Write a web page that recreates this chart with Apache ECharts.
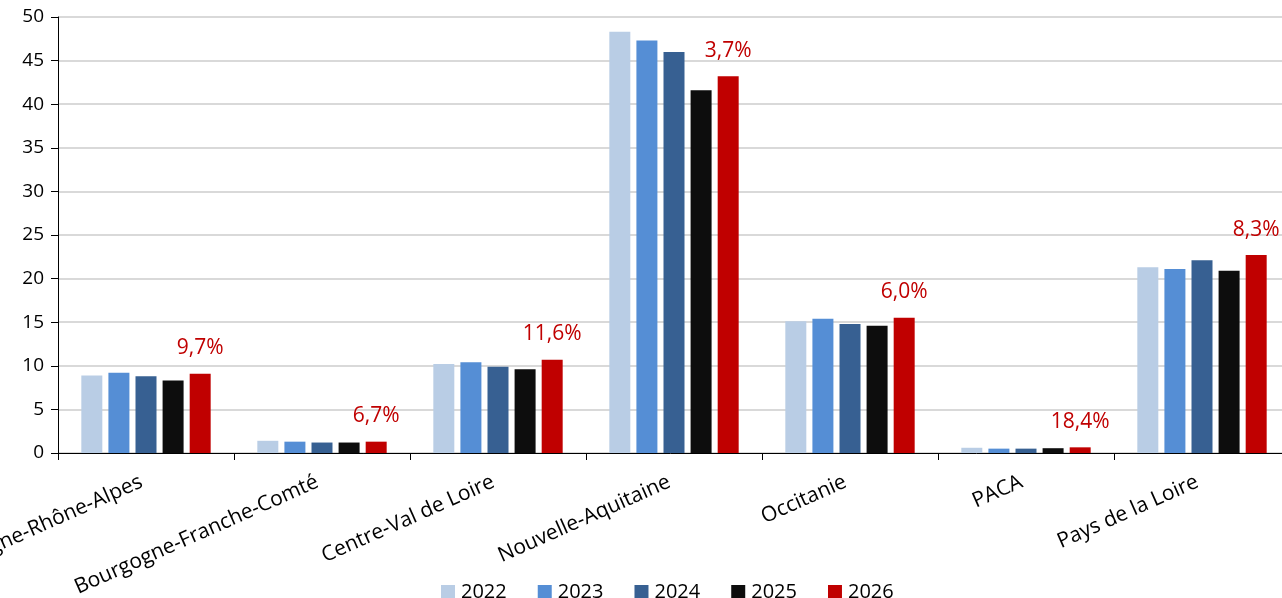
<!DOCTYPE html>
<html>
<head>
<meta charset="utf-8">
<script src="https://cdn.jsdelivr.net/npm/echarts@6/dist/echarts.min.js"></script>
<style>
  html, body { margin: 0; padding: 0; background: #fff; }
  #chart { width: 1282px; height: 598px; }
</style>
</head>
<body>
<div id="chart"></div>
<script>
const categories = ['Auvergne-Rhône-Alpes', 'Bourgogne-Franche-Comté', 'Centre-Val de Loire', 'Nouvelle-Aquitaine', 'Occitanie', 'PACA', 'Pays de la Loire'];
const years = ['2022', '2023', '2024', '2025', '2026'];
const v2022 = [8.9, 1.4, 10.2, 48.3, 15.1, 0.6, 21.3];
const v2023 = [9.2, 1.3, 10.4, 47.3, 15.4, 0.5, 21.1];
const v2024 = [8.8, 1.2, 9.9, 46.0, 14.8, 0.5, 22.1];
const v2025 = [8.3, 1.2, 9.6, 41.6, 14.6, 0.55, 20.9];
const v2026 = [9.1, 1.3, 10.7, 43.2, 15.5, 0.65, 22.7];
const pctLabels = ['9,7%', '6,7%', '11,6%', '3,7%', '6,0%', '18,4%', '8,3%'];
const yTicks = [0, 5, 10, 15, 20, 25, 30, 35, 40, 45, 50];

const colors = ['#B9CDE5', '#558ED5', '#376092', '#0D0D0D', '#C00000'];
const seriesValues = [v2022, v2023, v2024, v2025, v2026];
const FONT = 'Open Sans';

const series = years.map((y, i) => {
  const s = {
    name: y,
    type: 'bar',
    data: seriesValues[i],
    barWidth: 21,
    barGap: '29%',
    itemStyle: { color: colors[i] },
    animation: false
  };
  if (i === years.length - 1) {
    s.label = {
      show: true,
      position: 'top',
      distance: 15,
      color: '#C00000',
      fontFamily: FONT,
      fontSize: 21,
      formatter: p => pctLabels[p.dataIndex]
    };
  }
  return s;
});

const chart = echarts.init(document.getElementById('chart'), null, { renderer: 'canvas' });
chart.setOption({
  backgroundColor: '#ffffff',
  animation: false,
  color: colors,
  grid: { left: 58, top: 17, width: 1232, height: 436, containLabel: false, outerBoundsMode: 'none' },
  legend: {
    data: years,
    left: 436,
    top: 577,
    itemWidth: 14,
    itemHeight: 14,
    itemGap: 31,
    icon: 'rect',
    textStyle: { fontFamily: FONT, fontSize: 20, color: '#000', width: 47, padding: [0,0,0,1] }
  },
  xAxis: {
    type: 'category',
    data: categories,
    axisLine: { show: true, lineStyle: { color: '#000', width: 1 } },
    axisTick: { show: true, length: 7, lineStyle: { color: '#000' } },
    axisLabel: {
      rotate: 24,
      margin: 26,
      interval: 0,
      fontFamily: FONT,
      fontSize: 21,
      color: '#000',
      padding: [0, 5, 0, 0]
    }
  },
  yAxis: {
    type: 'value',
    min: yTicks[0],
    max: yTicks[yTicks.length - 1],
    interval: 5,
    axisLine: { show: true, lineStyle: { color: '#000', width: 1 } },
    axisTick: { show: true, length: 7, lineStyle: { color: '#000' } },
    axisLabel: { fontFamily: FONT, fontSize: 19, color: '#000', margin: 14 },
    splitLine: { show: true, lineStyle: { color: '#D9D9D9', width: 2 } }
  },
  series: series
});
</script>
</body>
</html>
